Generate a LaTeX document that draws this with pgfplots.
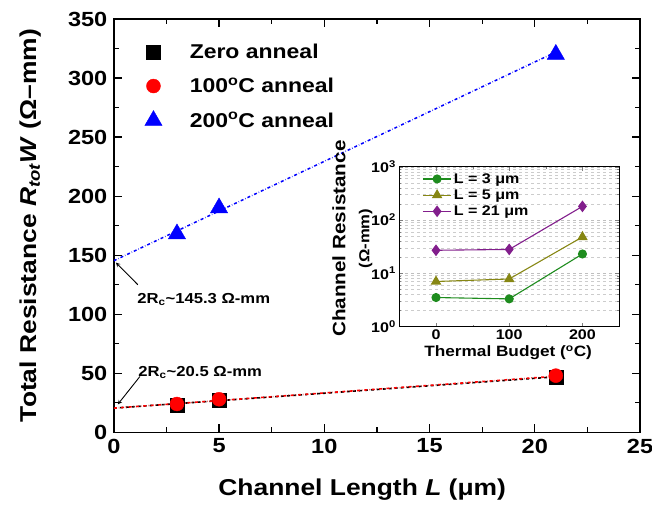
\documentclass[border=0pt]{standalone}
\usepackage{fontspec}
\setmainfont{Liberation Sans}[FakeStretch=1.15]
\usepackage{pgfplots}
\pgfplotsset{compat=1.18}
\begin{document}
\begin{tikzpicture}[font=\bfseries]
\begin{axis}[
  name=main,
  scale only axis, width=527pt, height=414pt,
  xmin=0, xmax=25, ymin=0, ymax=350,
  xtick={0,5,...,25}, ytick={0,50,...,350},
  minor x tick num=1, minor y tick num=1,
  tick align=inside, major tick length=8pt, minor tick length=5pt,
  axis line style={line width=1.6pt}, every tick/.style={line width=1.2pt, black},
  /pgf/number format/assume math mode=true,
  tick label style={font=\fontsize{20.5}{22}\selectfont\bfseries},
  xticklabel style={yshift=-3pt},
  yticklabel style={xshift=-3pt},
  xlabel={Channel Length \textit{L} (μm)},
  ylabel={Total Resistance \textit{R\textsubscript{tot}W} (Ω–mm)},
  xlabel style={font=\fontsize{23}{25}\selectfont\bfseries, at={(axis description cs:0.472,-0.138)}, anchor=center},
  ylabel style={font=\fontsize{23}{25}\selectfont\bfseries, at={(axis description cs:-0.159,0.5)}, anchor=center},
  legend style={draw=none, fill=none, at={(axis description cs:0.05,0.95)}, anchor=north west, font=\fontsize{20}{22}\selectfont\bfseries, row sep=14pt},
  legend image code/.code={\draw[#1] plot coordinates {(0.35cm,0cm)}; \path (0cm,0cm) (1.55cm,0cm);},
  legend cell align=left,
]
\addplot[only marks, mark=square*, mark size=7pt, black] coordinates {(3,23) (5,27) (21,47)};
\addlegendentry{Zero anneal}
\addplot[only marks, mark=*, mark size=7pt, red] coordinates {(3,24) (5,28) (21,48)};
\addlegendentry{100\textsuperscript{o}C anneal}
\addplot[only marks, mark=triangle*, mark size=10pt, blue] coordinates {(3,168) (5,190) (21,320)};
\addlegendentry{200\textsuperscript{o}C anneal}
\addplot[forget plot, black, dashed, line width=1.6pt] coordinates {(0,20.5) (21,47)};
\addplot[forget plot, red, dash dot, line width=1.6pt] coordinates {(0,20.5) (21,47.5)};
\addplot[forget plot, blue, dash dot, line width=1.5pt] coordinates {(0,145.3) (21,322)};
\node[font=\fontsize{14.5}{16}\selectfont\bfseries, anchor=west] at (axis cs:0.95,112.4) {2R\textsubscript{c}\textasciitilde145.3 Ω-mm};
\draw[-stealth, line width=0.9pt] (axis cs:1.14,125) -- (axis cs:0.1,143.7);
\node[font=\fontsize{14.5}{16}\selectfont\bfseries, anchor=west] at (axis cs:1.0,50.7) {2R\textsubscript{c}\textasciitilde20.5 Ω-mm};
\draw[-stealth, line width=0.9pt] (axis cs:1.24,47.3) -- (axis cs:0.19,23.7);
\end{axis}
\begin{axis}[
  at={(286pt,106pt)}, anchor=south west,
  scale only axis, width=220pt, height=160pt,
  ymode=log, xmin=-50, xmax=250, ymin=1, ymax=1000,
  xtick={0,100,200}, minor x tick num=1,
  ytick={1,10,100,1000}, yticklabels={10\textsuperscript{0},10\textsuperscript{1},10\textsuperscript{2},10\textsuperscript{3}},
  tick align=inside, major tick length=4pt, minor tick length=2pt,
  /pgf/number format/assume math mode=true,
  tick label style={font=\fontsize{14}{15}\selectfont\bfseries},
  ymajorgrids, yminorgrids,
  major grid style={gray!50, dashed, line width=0.4pt},
  minor grid style={gray!40, dashed, line width=0.4pt},
  axis line style={line width=1pt, black},
  xlabel={Thermal Budget (\textsuperscript{o}C)},
  ylabel={Channel Resistance\\{\fontsize{14.5}{16}\selectfont(Ω-mm)}},
  ylabel style={font=\fontsize{18}{24}\selectfont\bfseries, align=center, at={(axis description cs:-0.214,0.55)}, anchor=center},
  xlabel style={font=\fontsize{15}{17}\selectfont\bfseries, at={(axis description cs:0.495,-0.165)}, anchor=center},
  legend style={draw=none, fill=none, at={(axis description cs:0.09,0.985)}, anchor=north west, font=\fontsize{14}{15}\selectfont\bfseries, row sep=1pt},
  legend image code/.code={\draw[mark repeat=2,mark phase=2,#1] plot coordinates {(0cm,0cm) (0.5cm,0cm) (1cm,0cm)};},
  legend cell align=left,
]
\addplot[color={rgb,255:red,30;green,140;blue,30}, line width=1.1pt, mark=*, mark size=4pt] coordinates {(0,3.5) (100,3.3) (200,23)};
\addlegendentry{L = 3 μm}
\addplot[color={rgb,255:red,135;green,135;blue,20}, line width=1.1pt, mark=triangle*, mark size=5pt] coordinates {(0,7) (100,7.8) (200,48)};
\addlegendentry{L = 5 μm}
\addplot[color={rgb,255:red,130;green,30;blue,140}, line width=1.1pt, mark=diamond*, mark size=5pt] coordinates {(0,27) (100,28) (200,180)};
\addlegendentry{L = 21 μm}
\end{axis}
\pgfresetboundingbox
\path ([xshift=-114pt, yshift=-73pt]main.south west) ([xshift=12pt, yshift=19pt]main.north east);
\end{tikzpicture}
\end{document}
